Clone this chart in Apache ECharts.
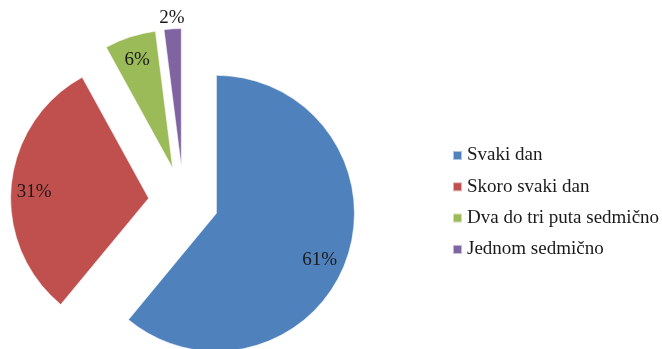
<!DOCTYPE html>
<html>
<head>
<meta charset="utf-8">
<script src="https://cdn.jsdelivr.net/npm/echarts@6/dist/echarts.min.js"></script>
<style>
  html, body { margin: 0; padding: 0; background: #fff; }
  #chart { width: 662px; height: 349px; }
</style>
</head>
<body>
<div id="chart"></div>
<script>
// Koliko često: share of respondents per answer
const categories = ['Svaki dan', 'Skoro svaki dan', 'Dva do tri puta sedmično', 'Jednom sedmično'];
const shares = [61, 31, 6, 2];
const colors = ['#4F81BD', '#C0504D', '#9BBB59', '#8064A2'];

const center = [183.5, 201.5];
const pieRadius = 138;
const explode = 35;
const serif = '"Liberation Serif", "Times New Roman", serif';

// small nudges of the inner labels, in pixels
const labelNudge = [[-5, 8], [0, 5], [0, 1], [0, 0]];

function items(labelFor) {
  return categories.map((name, i) => ({
    name: name,
    value: shares[i],
    selected: true,
    label: { show: labelFor(i) }
  }));
}

const labelText = {
  formatter: p => p.value + '%',
  fontFamily: serif,
  fontSize: 19,
  color: '#1a1a1a'
};

const chart = echarts.init(document.getElementById('chart'), null, { renderer: 'canvas' });
chart.setOption({
  animation: false,
  color: colors,
  legend: {
    orient: 'vertical',
    left: 452,
    top: 146,
    padding: 0,
    itemWidth: 9,
    itemHeight: 9,
    itemGap: 12.3,
    icon: 'rect',
    data: categories,
    selectedMode: false,
    textStyle: { fontFamily: serif, fontSize: 19, color: '#1a1a1a', lineHeight: 19 }
  },
  series: [
    {
      // slices, all pulled out from the centre
      type: 'pie',
      center: center,
      radius: [0, pieRadius],
      startAngle: 90,
      clockwise: true,
      selectedMode: 'multiple',
      selectedOffset: explode,
      silent: true,
      label: { show: false },
      labelLine: { show: false },
      itemStyle: { borderColor: 'rgba(255,255,255,0.55)', borderWidth: 1 },
      select: { itemStyle: { borderColor: 'rgba(255,255,255,0.55)', borderWidth: 1 } },
      data: items(() => false)
    },
    {
      // percentage labels sitting inside the larger slices
      type: 'pie',
      center: center,
      radius: [98, 126],
      startAngle: 90,
      clockwise: true,
      selectedMode: 'multiple',
      selectedOffset: explode,
      silent: true,
      legendHoverLink: false,
      itemStyle: { color: 'rgba(0,0,0,0)' },
      select: { itemStyle: { color: 'rgba(0,0,0,0)' } },
      label: Object.assign({ position: 'inside' }, labelText),
      labelLine: { show: false },
      labelLayout: p => ({ dx: labelNudge[p.dataIndex][0], dy: labelNudge[p.dataIndex][1] }),
      data: items(i => i < 3)
    },
    {
      // label for the thin slice, placed just beyond its rim
      type: 'pie',
      center: center,
      radius: [140, 156],
      startAngle: 90,
      clockwise: true,
      selectedMode: 'multiple',
      selectedOffset: explode,
      silent: true,
      legendHoverLink: false,
      itemStyle: { color: 'rgba(0,0,0,0)' },
      select: { itemStyle: { color: 'rgba(0,0,0,0)' } },
      label: Object.assign({ position: 'inside' }, labelText),
      labelLine: { show: false },
      labelLayout: { dy: 2 },
      data: items(i => i === 3)
    }
  ]
});
</script>
</body>
</html>
